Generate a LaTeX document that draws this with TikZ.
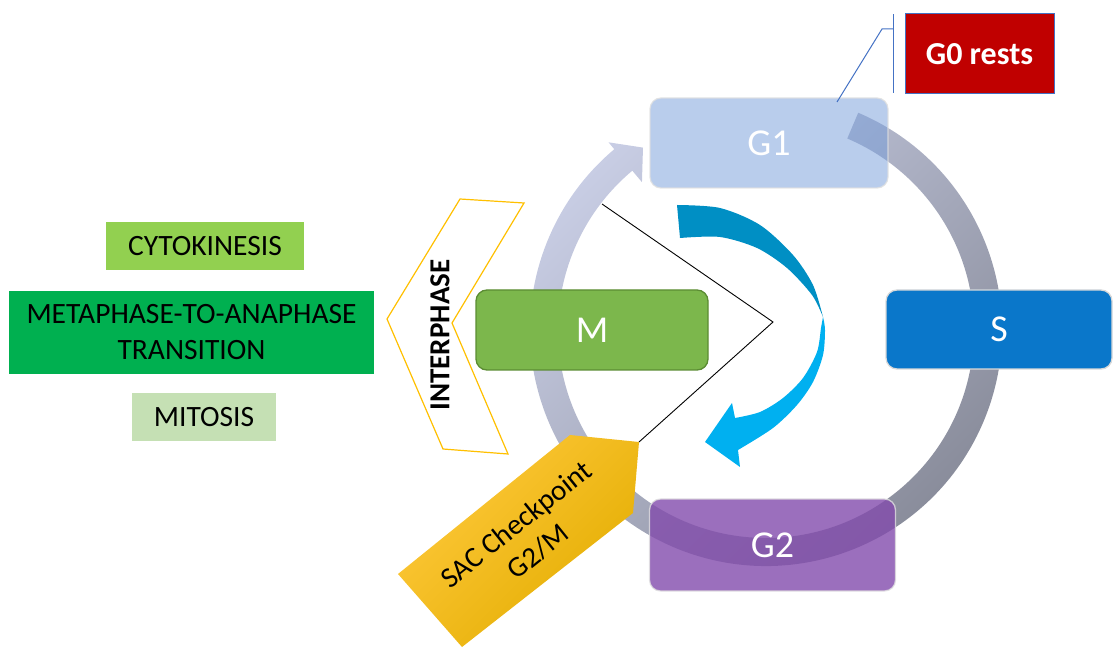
\documentclass[tikz,border=0pt]{standalone}
\usepackage{fontspec}
\setmainfont{Carlito}
\definecolor{ringlight}{HTML}{C8CDE4}
\definecolor{ringdark}{HTML}{858896}
\definecolor{gonecol}{RGB}{118,157,218}
\definecolor{gtwocol}{RGB}{130,75,172}
\definecolor{scol}{HTML}{0A77CA}
\definecolor{mcol}{HTML}{7CB74C}
\definecolor{mborder}{HTML}{5B8C33}
\definecolor{gzerocol}{HTML}{C00000}
\definecolor{calloutcol}{HTML}{4472C4}
\definecolor{arrdark}{HTML}{008FC4}
\definecolor{arrlight}{HTML}{00B0F0}
\definecolor{chevcol}{HTML}{FFC000}
\definecolor{sactop}{HTML}{FFC93C}
\definecolor{sacbot}{HTML}{E3AD00}
\definecolor{cytocol}{HTML}{92D050}
\definecolor{metacol}{HTML}{00B050}
\definecolor{mitocol}{HTML}{C5E0B4}
\begin{document}
\begin{tikzpicture}[x=1pt,y=1pt,
  phasebox/.style={rounded corners=11pt, text=white, inner sep=0pt,
    font=\fontsize{38}{44}\selectfont, line width=1.3pt},
  labelbox/.style={text=black, inner sep=0pt, align=center,
    font=\fontsize{29.5}{36}\selectfont},
  callout/.style={draw=calloutcol, line width=1pt}
]
\useasboundingbox (0,0) rectangle (1113,648);

% ring with arrowhead
\coordinate (rc) at (766,318);
\shade[top color=ringlight, bottom color=ringdark, shading angle=45]
  ([shift={(67:236)}]rc) arc[start angle=67, end angle=-230, radius=236]
  -- ([shift={(-230:245)}]rc) -- ([shift={(-236:220)}]rc)
  -- ([shift={(-230:193)}]rc) -- ([shift={(-230:208)}]rc)
  arc[start angle=-230, end angle=67, radius=208] -- cycle;

% blue curved arrow
\fill[arrdark] plot[smooth] coordinates {(677,443) (720,440) (760,423) (793,393) (813,363) (823,331)}
  -- plot[smooth] coordinates {(823,331) (812,353) (787,380) (757,400) (720,411) (680,410)} -- cycle;
\fill[arrlight] plot[smooth] coordinates {(823,331) (825,318) (823,293) (813,266) (797,243) (773,220) (738,198)}
  -- (740,181) -- (705,206) -- (732,245)
  -- plot[smooth] coordinates {(735,230) (760,236) (783,250) (803,270) (817,296) (821,320) (823,331)} -- cycle;

% phase boxes
\node[phasebox, fill=gonecol, fill opacity=0.51, text opacity=1, draw=black!12, draw opacity=0.8,
  minimum width=238, minimum height=90] (g1) at (769,505) {G1};
\node[phasebox, fill=scol, draw=black!15, minimum width=226, minimum height=79] (s) at (999,318.5) {S};
\node[phasebox, fill=mcol, draw=mborder, minimum width=232, minimum height=80] (m) at (592,318) {M};
\node[phasebox, fill=gtwocol, fill opacity=0.8, text opacity=1, draw=black!12, draw opacity=0.8,
  minimum width=246, minimum height=92] (g2) at (772.5,103) {G2};

% SAC checkpoint pentagon
\coordinate (sactip) at (639,206);
\shade[top color=sactop, bottom color=sacbot, shading angle=45]
  (398,74) -- (570,213) -- (sactip) -- (633,135) -- (462,1) -- cycle;
\node[text=black, align=center, inner sep=0pt, rotate=38.7,
  font=\fontsize{29}{35}\selectfont] (sac) at (527,110) {SAC Checkpoint\\G2/M};

% black lines
\coordinate (bla) at (602,444);
\coordinate (blb) at (773,326);
\draw[black, line width=0.9pt] (bla) -- (blb) -- (sactip);

% interphase chevron
\draw[chevcol, fill=white, line width=1.2pt, line join=miter]
  (460,449) -- (524,445) -- (452,325) -- (508,194) -- (443,199) -- (387,329) -- cycle;
\node[rotate=90, inner sep=0pt, font=\fontsize{29}{35}\selectfont\bfseries] (inter) at (440,313) {INTERPHASE};

% left labels
\node[labelbox, fill=cytocol, minimum width=198, minimum height=48] (cyto) at (205,402) {CYTOKINESIS};
\node[labelbox, fill=metacol, minimum width=365, minimum height=83] (meta) at (191.5,315.5) {METAPHASE-TO-ANAPHASE\\TRANSITION};
\node[labelbox, fill=mitocol, minimum width=144, minimum height=48] (mito) at (204,231) {MITOSIS};

% G0 rests callout
\node[fill=gzerocol, draw=calloutcol, line width=1pt, text=white, inner sep=0pt,
  minimum width=149, minimum height=80, font=\fontsize{32}{38}\selectfont\bfseries] (g0) at (979.5,594) {G0 rests};
\coordinate (cla) at (837,546);
\coordinate (clb) at (882,619);
\coordinate (clc) at (893,619);
\coordinate (bartop) at (893,634);
\coordinate (barbot) at (893,555);
\draw[callout] (cla) -- (clb) -- (clc);
\draw[callout] (barbot) -- (bartop);
\end{tikzpicture}
\end{document}
